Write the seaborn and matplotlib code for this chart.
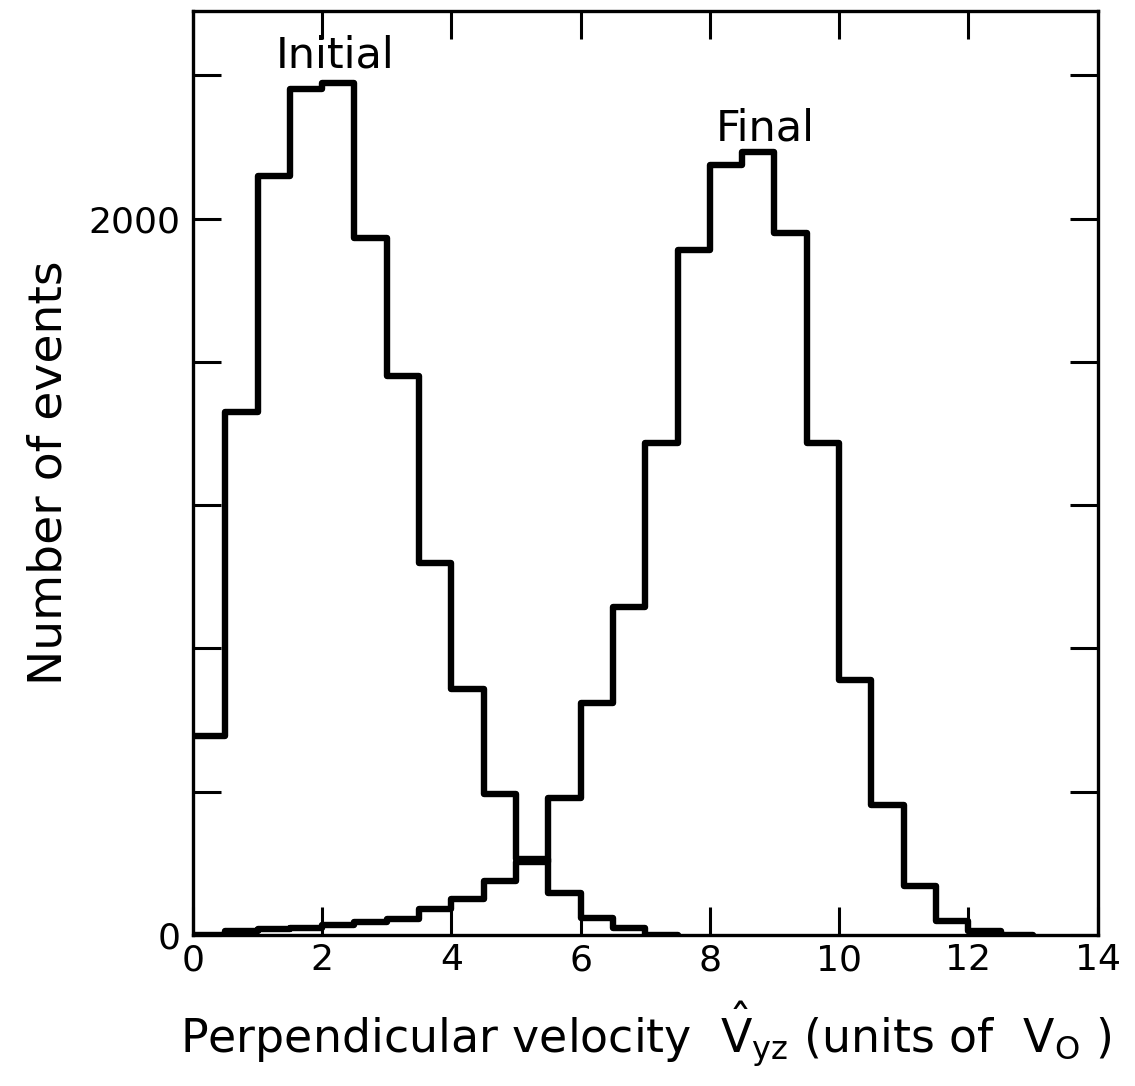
import numpy as np
import pandas as pd
import matplotlib
matplotlib.use("Agg")
import matplotlib.pyplot as plt
import seaborn as sns

# ---- data (bin edges in units of V0, counts per 0.5-wide bin) ----
bin_width = 0.5
initial_left_edges = [0.0, 0.5, 1.0, 1.5, 2.0, 2.5, 3.0, 3.5, 4.0, 4.5, 5.0, 5.5, 6.0, 6.5, 7.0]
initial_counts = [556, 1461, 2120, 2363, 2380, 1947, 1561, 1039, 687, 394, 212, 117, 48, 20, 0]

final_left_edges = [0.0, 0.5, 1.0, 1.5, 2.0, 2.5, 3.0, 3.5, 4.0, 4.5, 5.0, 5.5, 6.0, 6.5,
                    7.0, 7.5, 8.0, 8.5, 9.0, 9.5, 10.0, 10.5, 11.0, 11.5, 12.0, 12.5]
final_counts = [0, 10, 18, 20, 28, 36, 45, 72, 100, 151, 205, 383, 648, 916,
                1374, 1913, 2151, 2187, 1961, 1374, 712, 363, 137, 39, 11, 0]

x_ticks = [0, 2, 4, 6, 8, 10, 12, 14]
y_ticks = [0, 400, 800, 1200, 1600, 2000, 2400]
y_tick_labels = ["0", "", "", "", "", "2000", ""]

# ---- build tables ----
df_init = pd.DataFrame({"center": np.array(initial_left_edges) + bin_width / 2,
                        "count": initial_counts})
df_final = pd.DataFrame({"center": np.array(final_left_edges) + bin_width / 2,
                         "count": final_counts})
edges_init = list(initial_left_edges) + [initial_left_edges[-1] + bin_width]
edges_final = list(final_left_edges) + [final_left_edges[-1] + bin_width]

sns.set_style("ticks")
plt.rcParams["font.family"] = ["DejaVu Sans"]
plt.rcParams["mathtext.fontset"] = "dejavusans"
plt.rcParams["text.color"] = "black"
plt.rcParams["axes.labelcolor"] = "black"

fig = plt.figure(figsize=(11.35, 10.86), dpi=100)
ax = fig.add_axes([0.170, 0.139, 0.797, 0.851])

sns.histplot(data=df_init, x="center", weights="count", bins=edges_init,
             element="step", fill=False, color="black", linewidth=4.6, ax=ax)
sns.histplot(data=df_final, x="center", weights="count", bins=edges_final,
             element="step", fill=False, color="black", linewidth=4.6, ax=ax)

ax.set_xlim(0, 14)
ax.set_ylim(0, 2580)
ax.set_xticks(x_ticks)
ax.set_xticklabels([str(t) for t in x_ticks])
ax.set_yticks(y_ticks)
ax.set_yticklabels(y_tick_labels)

for s in ax.spines.values():
    s.set_visible(True)
    s.set_linewidth(2.4)
    s.set_color("black")

ax.tick_params(axis="both", which="major", direction="in", length=20, width=2.2,
               top=True, right=True, labelsize=26, colors="black")
ax.tick_params(axis="x", pad=6)
ax.tick_params(axis="y", pad=9)

ax.set_xlabel(r"Perpendicular velocity  $\hat{\mathrm{V}}_{\mathrm{yz}}$ (units of  $\mathrm{V_{O}}$ )",
              fontsize=33, labelpad=16, color="black")
ax.set_ylabel("Number of events", fontsize=34, labelpad=12, color="black")

ax.text(2.2, 2455, "Initial", fontsize=31, ha="center", va="center", color="black")
ax.text(8.85, 2251, "Final", fontsize=31, ha="center", va="center", color="black")

fig.savefig("out.png", dpi=100)
